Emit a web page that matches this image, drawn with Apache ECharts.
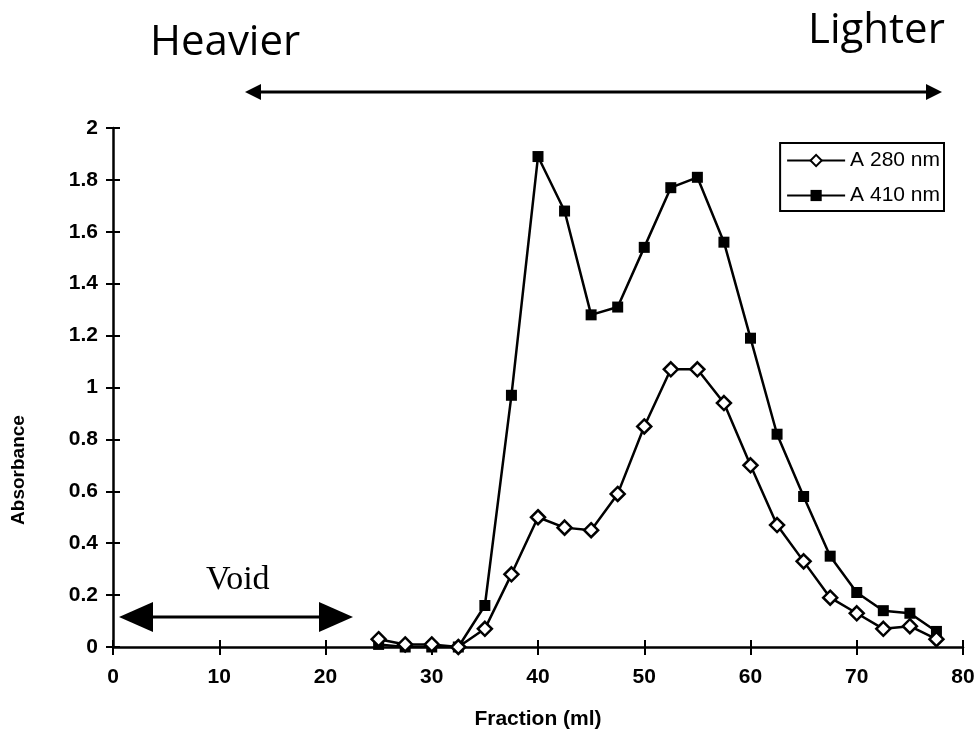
<!DOCTYPE html>
<html>
<head>
<meta charset="utf-8">
<script src="https://cdn.jsdelivr.net/npm/echarts@6/dist/echarts.min.js"></script>
<style>
  html, body { margin: 0; padding: 0; background: #fff; }
  #chart { width: 978px; height: 735px; }
</style>
</head>
<body>
<div id="chart"></div>
<script>
// fractions (ml) and the two absorbance traces
const fractions = [25, 27.5, 30, 32.5, 35, 37.5, 40, 42.5, 45, 47.5, 50, 52.5, 55, 57.5, 60, 62.5, 65, 67.5, 70, 72.5, 75, 77.5];
const a280 = [0.03, 0.01, 0.01, 0.0, 0.07, 0.28, 0.50, 0.46, 0.45, 0.59, 0.85, 1.07, 1.07, 0.94, 0.70, 0.47, 0.33, 0.19, 0.13, 0.07, 0.08, 0.03];
const a410 = [0.01, 0.0, 0.0, 0.0, 0.16, 0.97, 1.89, 1.68, 1.28, 1.31, 1.54, 1.77, 1.81, 1.56, 1.19, 0.82, 0.58, 0.35, 0.21, 0.14, 0.13, 0.06];
const seriesNames = ['A 280 nm', 'A 410 nm'];

const chart = echarts.init(document.getElementById('chart'));

const axisFont = { color: '#000', fontFamily: 'Liberation Sans, Arial, sans-serif', fontWeight: 'bold', fontSize: 21 };
const pair = (xs, ys) => xs.map((x, i) => [x, ys[i]]);

const option = {
    animation: false,
    backgroundColor: '#fff',
    grid: { left: 113, right: 15, top: 128, bottom: 87 },
    legend: {
        right: 34,
        top: 143,
        orient: 'vertical',
        itemWidth: 58,
        itemHeight: 14,
        itemGap: 14,
        padding: [7, 4, 5, 6],
        borderColor: '#000',
        borderWidth: 2,
        textStyle: { color: '#000', fontFamily: 'Liberation Sans, Arial, sans-serif', fontSize: 21 },
        data: seriesNames
    },
    xAxis: [
        {
            type: 'value', min: 0, max: 80, interval: 10,
            name: 'Fraction (ml)', nameLocation: 'middle', nameGap: 62,
            nameTextStyle: axisFont,
            splitLine: { show: false },
            axisLine: { lineStyle: { color: '#000', width: 2.5 } },
            axisTick: { length: 8, lineStyle: { color: '#000', width: 2 } },
            axisLabel: Object.assign({ margin: 20 }, axisFont)
        },
        {
            type: 'value', min: 0, max: 80, interval: 10, position: 'bottom',
            splitLine: { show: false }, axisLine: { show: false }, axisLabel: { show: false },
            axisTick: { inside: true, length: 7, lineStyle: { color: '#000', width: 2 } }
        }
    ],
    yAxis: [
        {
            type: 'value', min: 0, max: 2, interval: 0.2,
            splitLine: { show: false },
            axisLine: { show: true, lineStyle: { color: '#000', width: 2.5 } },
            axisTick: { show: true, length: 7, lineStyle: { color: '#000', width: 2 } },
            axisLabel: Object.assign({ margin: 15 }, axisFont)
        },
        {
            type: 'value', min: 0, max: 2, interval: 0.2, position: 'left',
            splitLine: { show: false }, axisLine: { show: false }, axisLabel: { show: false },
            axisTick: { show: true, inside: true, length: 7, lineStyle: { color: '#000', width: 2 } }
        }
    ],
    graphic: [
        // y axis title
        { type: 'text', x: 19, y: 470, rotation: Math.PI / 2,
          style: { text: 'Absorbance', textAlign: 'center', textVerticalAlign: 'middle', fill: '#000', font: 'bold 19px Liberation Sans, Arial, sans-serif' } },
        // heavier / lighter
        { type: 'text', left: 150, top: 22, style: { text: 'Heavier', fill: '#000', font: '42px Open Sans, Liberation Sans, sans-serif' } },
        { type: 'text', left: 808, top: 10, style: { text: 'Lighter', fill: '#000', font: '42px Open Sans, Liberation Sans, sans-serif' } },
        { type: 'line', shape: { x1: 258, y1: 92, x2: 928, y2: 92 }, style: { stroke: '#000', lineWidth: 3 } },
        { type: 'polygon', shape: { points: [[245, 92], [261, 84], [261, 100]] }, style: { fill: '#000' } },
        { type: 'polygon', shape: { points: [[942, 92], [926, 84], [926, 100]] }, style: { fill: '#000' } },
        // void marker
        { type: 'text', left: 206, top: 563, style: { text: 'Void', fill: '#000', font: '34px Liberation Serif, Times New Roman, serif' } },
        { type: 'line', shape: { x1: 150, y1: 617, x2: 322, y2: 617 }, style: { stroke: '#000', lineWidth: 3 } },
        { type: 'polygon', shape: { points: [[119, 617], [153, 602], [153, 632]] }, style: { fill: '#000' } },
        { type: 'polygon', shape: { points: [[353, 617], [319, 602], [319, 632]] }, style: { fill: '#000' } }
    ],
    series: [
        {
            name: seriesNames[0], type: 'line', data: pair(fractions, a280),
            symbol: 'diamond', symbolSize: 14, showAllSymbol: true,
            lineStyle: { color: '#000', width: 2.5 },
            itemStyle: { color: '#fff', borderColor: '#000', borderWidth: 2.5 },
            z: 3
        },
        {
            name: seriesNames[1], type: 'line', data: pair(fractions, a410),
            symbol: 'rect', symbolSize: 11, showAllSymbol: true,
            lineStyle: { color: '#000', width: 2.5 },
            itemStyle: { color: '#000', borderColor: '#000', borderWidth: 0 },
            z: 2
        }
    ]
};

chart.setOption(option);
</script>
</body>
</html>
